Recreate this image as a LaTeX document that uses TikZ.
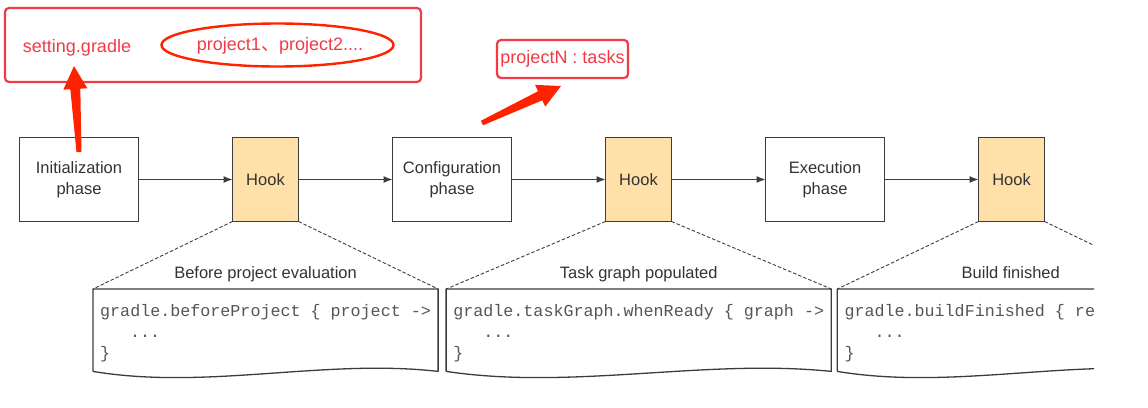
\documentclass[tikz,border=0pt]{standalone}
\usepackage{fontspec}
\setmainfont{Liberation Sans}
\setmonofont{Liberation Mono}
\newfontfamily\cjk{Noto Sans CJK SC}
\usepackage{xcolor}
\definecolor{hookfill}{RGB}{254, 224, 168}
\definecolor{linegray}{RGB}{60, 60, 60}
\definecolor{codegray}{RGB}{85, 85, 85}
\definecolor{notered}{RGB}{240, 58, 70}
\definecolor{arrowred}{RGB}{255, 34, 0}
\usepackage{tikz}
\usetikzlibrary{
    shapes.geometric,
    arrows.meta,
    positioning,
    calc
}
\tikzstyle{phase} = [
    rectangle, draw=linegray,
    line width=1.3pt,
    outer sep=0pt,
    fill=white,
    minimum width=119pt,
    minimum height=84pt,
    text centered,
    align=center,
    text=black!80,
    font=\fontsize{16.5}{21}\selectfont
]
\tikzstyle{hook} = [
    phase,
    fill=hookfill,
    minimum width=66pt
]
\tikzstyle{code} = [
    rectangle,
    minimum height=82pt,
    inner xsep=7pt,
    align=left,
    text=codegray,
    font=\ttfamily\fontsize{16.7}{21}\selectfont
]
\tikzstyle{caption} = [
    inner sep=0pt,
    text height=12pt,
    text depth=4pt,
    text=black!80,
    font=\fontsize{16.5}{21}\selectfont
]
\tikzstyle{arrow} = [
    line width=1.2pt,
    draw=linegray,
    -{Latex[length=9pt, width=7pt]}
]
\tikzstyle{zoomline} = [
    dash pattern=on 3.5pt off 2pt,
    line width=0.9pt,
    draw=linegray
]
\tikzstyle{note} = [
    draw=notered,
    line width=2.2pt,
    rounded corners=4pt,
    text=notered,
    font=\fontsize{18}{22}\selectfont
]
% outline of a code sheet with a wavy lower edge
\newcommand{\codesheet}[1]{%
    \draw [line width=1.3pt, draw=linegray, line join=round]
        (#1.south west) -- (#1.north west) -- (#1.north east) -- (#1.south east)
        .. controls ($(#1.south east)!0.33!(#1.south west)+(0,-13)$)
        and ($(#1.south east)!0.67!(#1.south west)+(0,19)$) .. (#1.south west);
}
% red pointer, thin at the tail and wide at the head
\newcommand{\fatarrow}[2]{%
    \coordinate (fabase) at ($(#2)!23pt!(#1)$);
    \fill [arrowred]
        ($(#1)!2.5pt!90:(#2)$) -- ($(fabase)!5pt!90:(#2)$)
        -- ($(fabase)!12pt!90:(#2)$) -- (#2)
        -- ($(fabase)!12pt!-90:(#2)$) -- ($(fabase)!5pt!-90:(#2)$)
        -- ($(#1)!2.5pt!-90:(#2)$) -- cycle;
}

\begin{document}
\begin{tikzpicture}[x=1pt, y=-1pt, node distance=94pt]
\useasboundingbox (0,0) rectangle (1148,407);

\begin{scope}
\clip (0,0) rectangle (1094,407);

\node (init) [phase] at (79,179.5) {Initialization\\phase};
\node (hook1) [hook, right=of init] {Hook};
\node (config) [phase, right=of hook1] {Configuration\\phase};
\node (hook2) [hook, right=of config] {Hook};
\node (exec) [phase, right=of hook2] {Execution\\phase};
\node (hook3) [hook, right=of exec] {Hook};

\draw [arrow] (init) -- (hook1);
\draw [arrow] (hook1) -- (config);
\draw [arrow] (config) -- (hook2);
\draw [arrow] (hook2) -- (exec);
\draw [arrow] (exec) -- (hook3);

\node (code1) [code, anchor=north west] at (93,289)
    {\rule{0pt}{19pt}gradle.beforeProject \{ project ->\\\hspace*{30pt}...\\\}};
\node (code2) [code, right=8pt of code1]
    {\rule{0pt}{19pt}gradle.taskGraph.whenReady \{ graph ->\\\hspace*{30pt}...\\\}};
\node (code3) [code, right=6pt of code2]
    {\rule{0pt}{19pt}gradle.buildFinished \{ re\hspace*{82pt}\\\hspace*{30pt}...\\\}};

\codesheet{code1}
\codesheet{code2}
\codesheet{code3}

\node (cap1) [caption, above=6pt of code1] {Before project evaluation};
\node (cap2) [caption, above=6pt of code2] {Task graph populated};
\node (cap3) [caption, above=6pt of code3] {Build finished};

% Ausschnitt-Linien
\draw [zoomline] (hook1.south west) -- (code1.north west);
\draw [zoomline] (hook1.south east) -- (code1.north east);
\draw [zoomline] (hook2.south west) -- (code2.north west);
\draw [zoomline] (hook2.south east) -- (code2.north east);
\draw [zoomline] (hook3.south west) -- (code3.north west);
\draw [zoomline] (hook3.south east) -- (code3.north east);
\end{scope}

% red notes
\node (initnote) [note, minimum width=416pt, minimum height=74pt] at (213,45) {};
\node (setting) [text=notered, font=\fontsize{18}{22}\selectfont] at (77,48) {setting.gradle};
\node (projects) [text=notered, font=\fontsize{18}{22}\selectfont] at (280,46)
    {project1{\cjk 、}project2....};
\draw [draw=arrowred, line width=2.4pt] (projects.center) ++(-2.5,-1) ellipse (116 and 21.5);
\node (tasks) [note, minimum width=131pt, minimum height=38pt, inner sep=2pt] at (562.5,59)
    {projectN : tasks};

\coordinate (tail1) at (79,152);
\coordinate (tip1) at (74,66);
\coordinate (tail2) at (482,123);
\coordinate (tip2) at (561,86);
\fatarrow{tail1}{tip1}
\fatarrow{tail2}{tip2}

\end{tikzpicture}
\end{document}
